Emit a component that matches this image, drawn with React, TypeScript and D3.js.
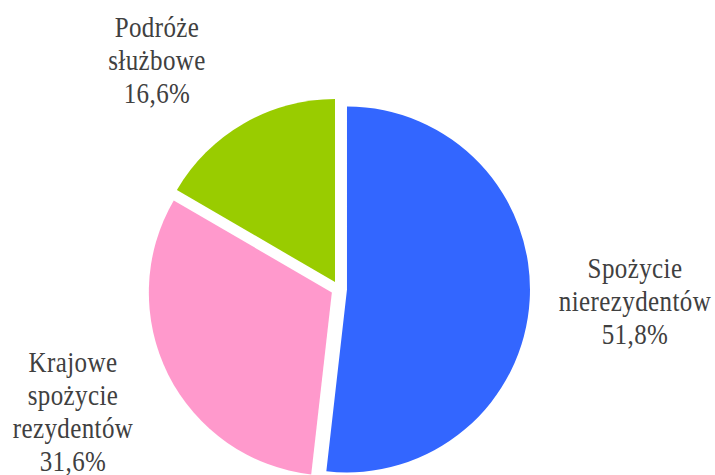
import { useEffect, useRef } from 'react'
import * as d3 from 'd3'

const categories = ['Spożycie nierezydentów', 'Krajowe spożycie rezydentów', 'Podróże służbowe']
const labelLines = [
  ['Spożycie', 'nierezydentów', '51,8%'],
  ['Krajowe', 'spożycie', 'rezydentów', '31,6%'],
  ['Podróże', 'służbowe', '16,6%'],
]
const values = [51.8, 31.6, 16.6]
const colors = ['#3366FF', '#FF99CC', '#99CC00']

export default function App() {
  const svgRef = useRef<SVGSVGElement>(null)

  useEffect(() => {
    if (!svgRef.current) return
    const svg = d3.select(svgRef.current)
    svg.selectAll('*').remove()

    const width = 715
    const height = 475
    const cx = 339
    const cy = 289
    const radius = 183
    const explode = 8

    svg.attr('width', width).attr('height', height)

    const pie = d3
      .pie<number>()
      .sort(null)
      .value((d) => d)
    const arcs = pie(values)
    const arc = d3.arc<d3.PieArcDatum<number>>().innerRadius(0).outerRadius(radius)

    const g = svg.append('g').attr('transform', `translate(${cx},${cy})`)

    g.selectAll('path')
      .data(arcs)
      .join('path')
      .attr('d', arc)
      .attr('fill', (_, i) => colors[i])
      .attr('transform', (d) => {
        const mid = (d.startAngle + d.endAngle) / 2
        return `translate(${Math.sin(mid) * explode},${-Math.cos(mid) * explode})`
      })
      .append('title')
      .text((_, i) => categories[i])

    // label block: centre x and first baseline, placed like the original
    const labelPos = [
      [635, 278],
      [73, 372],
      [157, 37],
    ]
    const lineH = 33
    const stretch = 1.2 // the original font is tall and narrow

    labelLines.forEach((lines, i) => {
      const [lx, ly] = labelPos[i]
      const t = svg
        .append('text')
        .attr('text-anchor', 'middle')
        .attr('transform', `translate(${lx},${ly}) scale(1,${stretch})`)
        .attr('font-family', 'Liberation Serif, Times New Roman, serif')
        .attr('font-size', 25)
        .attr('letter-spacing', 0.4)
        .attr('fill', '#404040')
      lines.forEach((line, j) => {
        t.append('tspan')
          .attr('x', 0)
          .attr('y', (j * lineH) / stretch)
          .text(line)
      })
    })
  }, [])

  return (
    <>
      <style>{`body{margin:0}`}</style>
      <svg ref={svgRef} style={{ display: 'block' }} />
    </>
  )
}
